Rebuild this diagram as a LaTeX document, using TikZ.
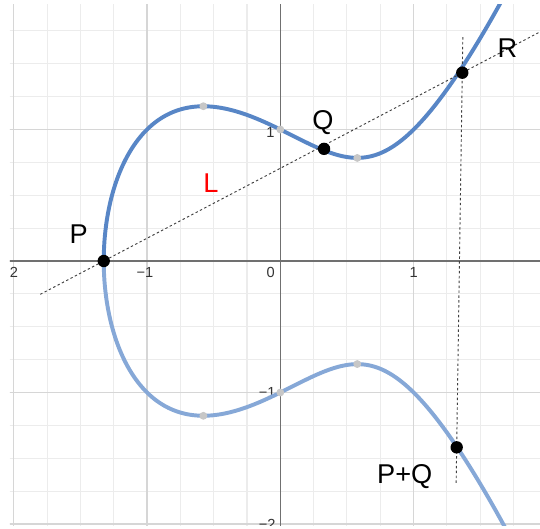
\documentclass[tikz,border=0pt]{standalone}
\usepackage{fontspec}
\setmainfont{Liberation Sans}
\usetikzlibrary{calc}

\definecolor{curveup}{RGB}{88,134,198}
\definecolor{curvelow}{RGB}{134,168,215}
\definecolor{minorgrid}{RGB}{236,236,236}
\definecolor{majorgrid}{RGB}{214,214,214}
\definecolor{axisgray}{RGB}{112,112,112}

\begin{document}
\begin{tikzpicture}[x=2.5cm, y=2.466cm, line join=round,
  declare function={ec(\x)=sqrt(abs(\x*\x*\x-\x+1));},
  ptdot/.style={circle, fill=black, inner sep=0pt, minimum size=6.6pt},
  graydot/.style={circle, fill=black!22, inner sep=0pt, minimum size=4.2pt},
  ptlabel/.style={font=\fontsize{14.5}{16}\selectfont, anchor=base, inner sep=0pt},
  ticklabel/.style={font=\fontsize{7.8}{9}\selectfont, text=black!80, inner sep=0pt},
  dashline/.style={draw=black!75, line width=0.5pt, dash pattern=on 1.3pt off 1.3pt}]

\useasboundingbox (-2.103,-2.038) rectangle (1.948,1.985);

\coordinate (P) at (-1.32472,0);
\coordinate (Q) at (0.328,0.853);
\coordinate (R) at (1.365,1.432);
\coordinate (PQ) at (1.323,-1.417);

\begin{scope}
\clip (-2.028,-2.008) rectangle (1.948,1.954);
% grid and axes
\draw[minorgrid, line width=0.55pt] (-2.25,-2.25) grid[step=0.25] (2,2);
\draw[majorgrid, line width=0.7pt] (-3,-3) grid[step=1] (2,2);
\draw[axisgray, line width=0.85pt] (-2.1,0) -- (2,0);
\draw[axisgray, line width=0.85pt] (0,-2.1) -- (0,2);

\node[ticklabel, anchor=east] (xm2) at (-1.966,-0.089) {−2};
\node[ticklabel] (xm1) at (-1.015,-0.089) {−1};
\node[ticklabel] (x0) at (-0.072,-0.089) {0};
\node[ticklabel] (x1) at (1.0,-0.089) {1};
\node[ticklabel, anchor=east] (y1) at (-0.04,0.98) {1};
\node[ticklabel, anchor=east] (ym1) at (-0.033,-1.0) {−1};
\node[ticklabel, anchor=east] (ym2) at (-0.033,-2.0) {−2};

% the two branches of the curve
\draw[curveup, line width=2.1pt, line cap=round]
  plot[domain=0:1.76, samples=160, variable=\t, smooth] ({-1.32472+\t*\t},{ec(-1.32472+\t*\t)});
\draw[curvelow, line width=2.1pt, line cap=round]
  plot[domain=0:1.76, samples=160, variable=\t, smooth] ({-1.32472+\t*\t},{-ec(-1.32472+\t*\t)});

% chord and vertical
\draw[dashline] ($(P)!-0.177!(R)$) -- ($(P)!1.25!(R)$);
\draw[dashline] ($(R)!-0.095!(PQ)$) -- ($(R)!1.095!(PQ)$);
\end{scope}

\foreach \gx/\gy [count=\i] in {-0.57735/1.17735, 0.57735/0.78375, 0.57735/-0.78375, -0.57735/-1.17735, 0/1, 0/-1}
  \node[graydot] (g\i) at (\gx,\gy) {};

\node[ptdot] (Pdot) at (P) {};
\node[ptdot] (Qdot) at (Q) {};
\node[ptdot] (Rdot) at (R) {};
\node[ptdot] (PQdot) at (PQ) {};

\node[ptlabel] (Plbl) at (-1.512,0.135) {P};
\node[ptlabel] (Qlbl) at (0.320,1.002) {Q};
\node[ptlabel] (Rlbl) at (1.704,1.549) {R};
\node[ptlabel, text=red] (Llbl) at (-0.520,0.519) {L};
\node[ptlabel] (PQlbl) at (0.933,-1.690) {P+Q};

\end{tikzpicture}
\end{document}
